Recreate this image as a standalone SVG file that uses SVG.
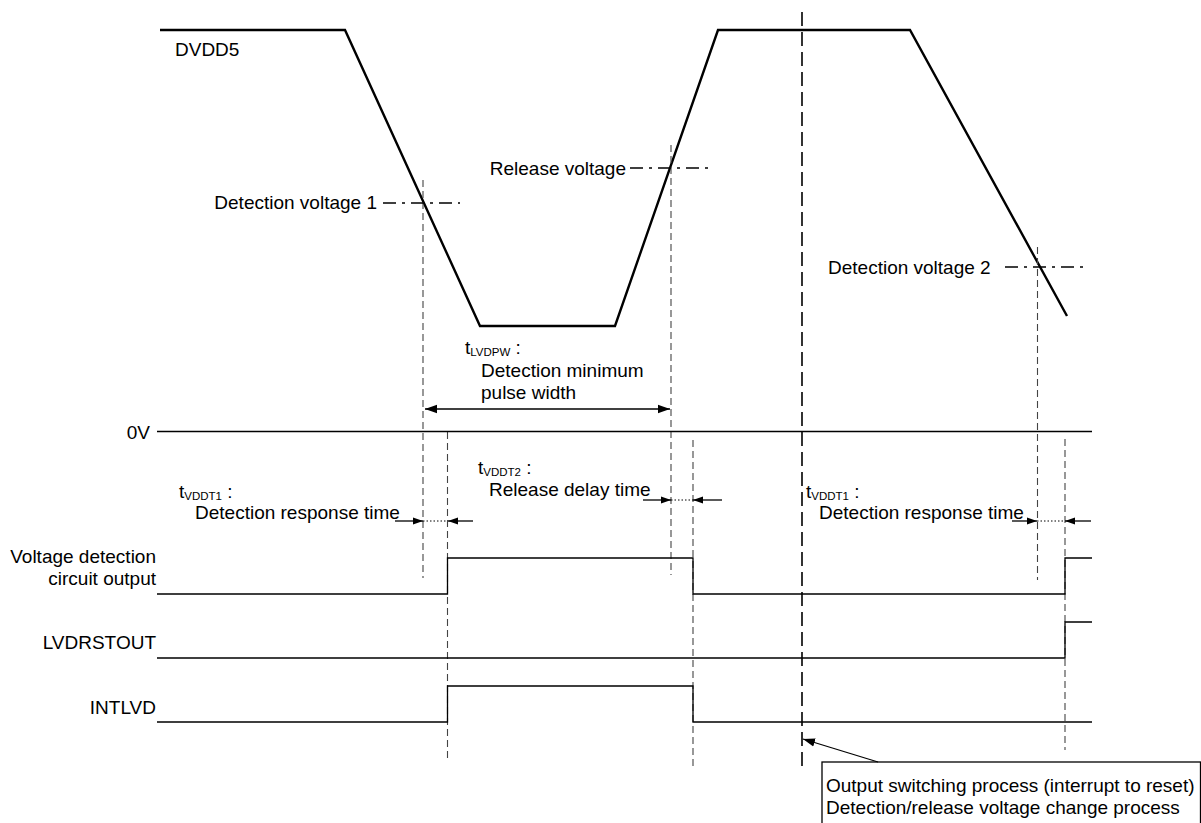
<svg xmlns="http://www.w3.org/2000/svg" width="1201" height="823" viewBox="0 0 1201 823">
<style>
text{font-family:"Liberation Sans",Arial,sans-serif;font-size:19px;fill:#000}
.sub{font-size:11.5px}
.wave{fill:none;stroke:#000;stroke-width:2.4;stroke-linejoin:miter}
.sig{fill:none;stroke:#000;stroke-width:1.3}
.guide{fill:none;stroke:#444;stroke-width:1.1;stroke-dasharray:7 4}
.big{fill:none;stroke:#000;stroke-width:1.6;stroke-dasharray:14 6}
.dd{fill:none;stroke:#000;stroke-width:1.3;stroke-dasharray:13 6 3 6}
.arr{fill:none;stroke:#000;stroke-width:1.3}
.dot{fill:none;stroke:#000;stroke-width:1;stroke-dasharray:1.5 2}
</style>
<defs>
<marker id="ah" viewBox="0 0 10 10" refX="10" refY="5" markerWidth="10" markerHeight="10" markerUnits="userSpaceOnUse" orient="auto">
<path d="M0,1.5 L10,5 L0,8.5 Z" fill="#000"/>
</marker>
<marker id="ahs" viewBox="0 0 10 10" refX="10" refY="5" markerWidth="12" markerHeight="12" markerUnits="userSpaceOnUse" orient="auto-start-reverse">
<path d="M0,1.5 L10,5 L0,8.5 Z" fill="#000"/>
</marker>
</defs>

<g id="dvdd5">
<polyline class="wave" points="160,30 345,30 480,326 615,326 718,30 910,30 1067,316"/>
<text x="175" y="56">DVDD5</text>
</g>

<g id="guides">
<line class="guide" x1="423" y1="180" x2="423" y2="578"/>
<line class="guide" x1="447.5" y1="432" x2="447.5" y2="762"/>
<line class="guide" x1="671" y1="145" x2="671" y2="575"/>
<line class="guide" x1="693" y1="440" x2="693" y2="766"/>
<line class="guide" x1="1037.5" y1="247" x2="1037.5" y2="580"/>
<line class="guide" x1="1065" y1="439" x2="1065" y2="750"/>
<line class="big" x1="802" y1="12" x2="802" y2="768"/>
</g>

<g id="det1">
<line class="dd" x1="383" y1="203" x2="460" y2="203"/>
<text x="377" y="209" text-anchor="end">Detection voltage 1</text>
</g>
<g id="rel">
<line class="dd" x1="630" y1="168" x2="710" y2="168"/>
<text x="626" y="175" text-anchor="end">Release voltage</text>
</g>
<g id="det2">
<line class="dd" x1="1005" y1="267" x2="1085" y2="267"/>
<text x="828" y="274">Detection voltage 2</text>
</g>

<g id="zero">
<line class="sig" x1="157" y1="431.5" x2="1092" y2="431.5"/>
<text x="150" y="439" text-anchor="end">0V</text>
</g>

<g id="vdco">
<polyline class="sig" points="157,594 447.5,594 447.5,558 693,558 693,594 1065,594 1065,558 1092,558"/>
<text x="156" y="563" text-anchor="end">Voltage detection</text>
<text x="156" y="585" text-anchor="end">circuit output</text>
</g>
<g id="lvdrstout">
<polyline class="sig" points="157,658 1065,658 1065,622 1092,622"/>
<text x="156" y="649" text-anchor="end">LVDRSTOUT</text>
</g>
<g id="intlvd">
<polyline class="sig" points="157,722 447.5,722 447.5,686 693,686 693,722 1092,722"/>
<text x="156" y="714" text-anchor="end">INTLVD</text>
</g>

<g id="tlvdpw">
<text x="465" y="354">t<tspan class="sub" dy="2">LVDPW</tspan><tspan dy="-2"> :</tspan></text>
<text x="481" y="377">Detection minimum</text>
<text x="481" y="399">pulse width</text>
</g>
<g id="tvddt1a">
<text x="179" y="498">t<tspan class="sub" dy="2">VDDT1</tspan><tspan dy="-2"> :</tspan></text>
<text x="195" y="519">Detection response time</text>
</g>
<g id="tvddt2">
<text x="478" y="474">t<tspan class="sub" dy="2">VDDT2</tspan><tspan dy="-2"> :</tspan></text>
<text x="489" y="496">Release delay time</text>
</g>
<g id="tvddt1b">
<text x="806" y="498">t<tspan class="sub" dy="2">VDDT1</tspan><tspan dy="-2"> :</tspan></text>
<text x="819" y="519">Detection response time</text>
</g>

<g id="note">
<rect x="822" y="762" width="378.5" height="80" fill="none" stroke="#000" stroke-width="1.3"/>
<text x="826" y="792">Output switching process (interrupt to reset)</text>
<text x="826" y="814">Detection/release voltage change process</text>
</g>

<g id="connectors">
<line class="arr" x1="425" y1="409" x2="670" y2="409" marker-start="url(#ahs)" marker-end="url(#ahs)"/>
<line class="arr" x1="395" y1="521" x2="423" y2="521" marker-end="url(#ah)"/>
<line class="dot" x1="423" y1="521" x2="447" y2="521"/>
<line class="arr" x1="473" y1="521" x2="448" y2="521" marker-end="url(#ah)"/>
<line class="arr" x1="643" y1="500" x2="671" y2="500" marker-end="url(#ah)"/>
<line class="dot" x1="671" y1="500" x2="693" y2="500"/>
<line class="arr" x1="722" y1="500" x2="693" y2="500" marker-end="url(#ah)"/>
<line class="arr" x1="1012" y1="521" x2="1037" y2="521" marker-end="url(#ah)"/>
<line class="dot" x1="1037" y1="521" x2="1065" y2="521"/>
<line class="arr" x1="1091" y1="521" x2="1065" y2="521" marker-end="url(#ah)"/>
<line class="arr" x1="878" y1="762" x2="803" y2="739" marker-end="url(#ahs)"/>
</g>
</svg>
